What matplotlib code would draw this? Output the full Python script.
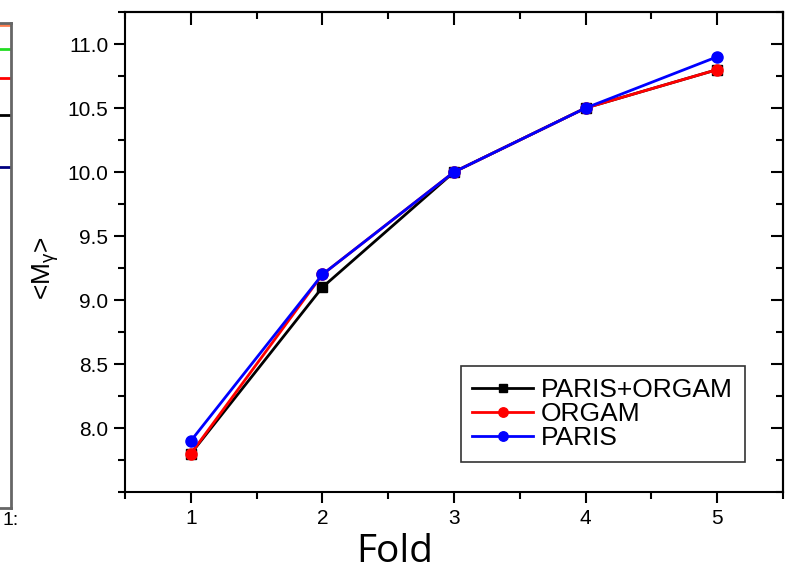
import matplotlib.pyplot as plt
from matplotlib.ticker import MultipleLocator

fold = [1, 2, 3, 4, 5]
paris_orgam = [7.8, 9.1, 10.0, 10.5, 10.8]
orgam = [7.8, 9.2, 10.0, 10.5, 10.8]
paris = [7.9, 9.2, 10.0, 10.5, 10.9]

# neighbouring panel, only its right edge shows (levels as fraction of its height)
side_levels = [0.996, 0.946, 0.887, 0.810, 0.703]
side_colors = ['#ff7f50', '#22dd22', 'red', 'black', 'navy']

plt.rcParams['font.family'] = ['Liberation Sans', 'DejaVu Sans']
plt.rcParams['mathtext.fontset'] = 'custom'
plt.rcParams['mathtext.rm'] = 'Liberation Sans'
plt.rcParams['mathtext.it'] = 'Liberation Sans'

fig = plt.figure(figsize=(7.92, 5.73), dpi=100)

# left strip
axs = fig.add_axes([-0.5, 1 - 508 / 573, 0.514, 485 / 573])
axs.set_xlim(0, 1)
axs.set_ylim(0, 1)
for lv, c in zip(side_levels, side_colors):
    axs.axhline(lv, color=c, lw=2)
for sp in axs.spines.values():
    sp.set_color('#666666')
    sp.set_linewidth(2)
axs.set_yticks([])
axs.set_xticks([1.0])
axs.set_xticklabels(['1:'], fontsize=14)
axs.tick_params(axis='x', length=0, pad=3)

ax = fig.add_axes([0.158, 1 - 492 / 573, 0.8306, 480 / 573])
ax.plot(fold, paris_orgam, '-s', color='black', lw=2, ms=7, label='PARIS+ORGAM')
ax.plot(fold, orgam, '-o', color='red', lw=2, ms=8, label='ORGAM')
ax.plot(fold, paris, '-o', color='blue', lw=2, ms=8, label='PARIS')

ax.set_xlim(0.5, 5.5)
ax.set_ylim(7.5, 11.25)
ax.xaxis.set_major_locator(MultipleLocator(1))
ax.xaxis.set_minor_locator(MultipleLocator(0.5))
ax.set_yticks([8.0, 8.5, 9.0, 9.5, 10.0, 10.5, 11.0])
ax.yaxis.set_minor_locator(MultipleLocator(0.25))
ax.tick_params(which='both', direction='out', width=1.5, labelsize=15, pad=4)
ax.tick_params(which='major', length=8)
ax.tick_params(which='minor', length=5)
for sp in ax.spines.values():
    sp.set_linewidth(1.5)

# top and right ticks point inward
top = ax.secondary_xaxis('top')
top.xaxis.set_major_locator(MultipleLocator(1))
top.xaxis.set_minor_locator(MultipleLocator(0.5))
top.tick_params(which='both', direction='in', width=1.5, labeltop=False)
top.tick_params(which='major', length=9)
top.tick_params(which='minor', length=5)
top.spines['top'].set_linewidth(1.5)

right = ax.secondary_yaxis('right')
right.set_yticks([8.0, 8.5, 9.0, 9.5, 10.0, 10.5, 11.0])
right.yaxis.set_minor_locator(MultipleLocator(0.25))
right.tick_params(which='both', direction='in', width=1.5, labelright=False)
right.tick_params(which='major', length=9)
right.tick_params(which='minor', length=5)
right.spines['right'].set_linewidth(1.5)

ax.set_xlabel('Fold', fontsize=28, family=['Open Sans', 'DejaVu Sans'])
ax.xaxis.set_label_coords(0.41, -0.085, transform=ax.transAxes)
ax.set_ylabel(r'<M$_{\gamma}$>', fontsize=19)
ax.yaxis.set_label_coords(-0.098, 0.467, transform=ax.transAxes)

leg = ax.legend(loc='lower right', bbox_to_anchor=(0.942, 0.0625), fontsize=19,
                frameon=True, fancybox=False, edgecolor='black', handlelength=2.3,
                borderpad=0.45, labelspacing=0.0, handletextpad=0.3, borderaxespad=0,
                markerscale=0.85)
leg.get_frame().set_linewidth(1.2)

fig.savefig('out.png', dpi=100)
